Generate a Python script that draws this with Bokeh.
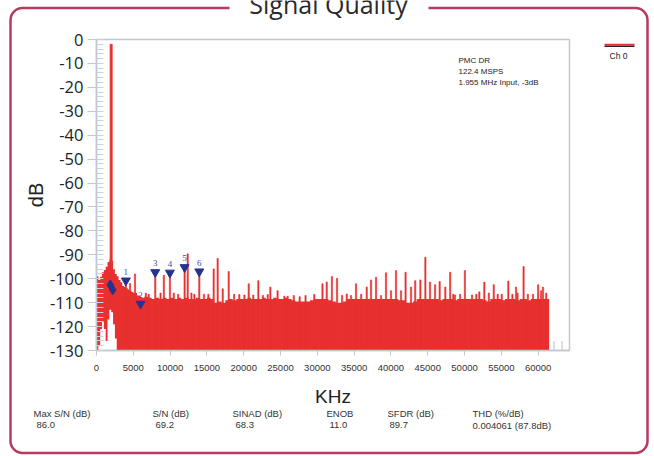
from bokeh.plotting import figure
from bokeh.models import Label, BoxAnnotation, Range1d, FixedTicker, ColumnDataSource
from bokeh.embed import file_html
from bokeh.resources import INLINE

# ---------------- data ----------------
# near-carrier region, 250 kHz bins
near_khz = [125, 375, 625, 875, 1125, 1375, 1625, 1875, 2125, 2375, 2625, 2875,
            3125, 3375, 3625, 3875, 4125, 4375, 4625, 4875]
near_top = [-99.0, -100.5, -99.2, -97.3, -96.3, -95.0, -93.0, -92.0, -92.5, -96.0, -98.0, -99.0,
            -100.5, -101.5, -103.0, -103.5, -104.0, -104.5, -105.0, -105.5]
near_bottom = [-130, -128, -121, -118, -121, -126, -117, -113, -114, -119, -125, -130,
               -130, -130, -130, -130, -130, -130, -130, -130]

# noise floor, 500 kHz bins from 5000 kHz to Nyquist
floor_start_khz = 5000
floor_bin_khz = 500
floor_db = [-106.0, -107.0,
            -108.0, -107.5, -108.0, -108.5, -108.0, -108.5, -108.0, -108.5,
            -108.0, -108.5, -108.0, -108.5, -108.0, -108.5, -108.5, -108.0,
            -108.5, -108.5, -108.0, -108.5,
            -110.0, -109.5, -110.0, -109.0, -108.5, -109.0, -108.5, -108.5,
            -108.5, -108.0, -108.5, -108.5, -108.5, -108.0, -108.5, -108.5,
            -108.0, -108.5, -108.5, -108.0, -108.5, -109.0, -109.5, -109.5,
            -109.5, -109.5, -109.0, -108.5, -108.5, -108.5, -108.5, -109.0,
            -109.5, -110.0, -110.0, -109.5, -108.5, -108.5, -108.5, -108.5,
            -108.5, -108.5, -108.5, -108.5, -108.5, -108.5, -108.5, -108.5,
            -108.5, -108.5, -109.0, -109.0, -110.0, -110.0, -109.5, -108.5,
            -108.5, -108.5, -108.5, -108.5, -108.5, -109.0, -108.5, -108.5,
            -108.5, -109.0, -108.5, -108.5, -108.5, -108.5, -108.5, -108.5,
            -108.5, -109.0, -109.5, -108.5, -108.5, -108.5, -109.0, -108.5,
            -108.5, -108.5, -109.0, -108.5, -108.5, -109.0, -108.5, -108.5,
            -108.5, -108.5, -108.5]

fund_khz = [1990]
fund_db = [-2.0]

spur_khz = [4550, 5230, 6700, 7100, 8700, 9150, 10500, 11100, 12390, 12900, 13300, 14600,
            15200, 15920, 16460, 17150, 17960, 18700, 19400, 20100, 20680, 21300, 21990,
            22600, 23260, 23620, 24600, 25520, 25970, 26800, 27600, 28400, 29590,
            30700, 31280, 31980, 32680, 33360, 34000, 34580, 35260, 35960, 36710,
            37300, 37980, 38650, 39330, 40010, 40690, 41370, 41990, 42730, 43300,
            44000, 44680, 45310, 46000, 46620, 47390, 48050, 48480, 48700, 49400,
            50050, 51020, 51600, 52010, 52690, 53300, 53970, 54500, 55060, 55950,
            56500, 57000, 57200, 58020, 58600, 59300, 60000, 60400, 60660, 61100]
spur_db = [-102.0, -98.0, -106.0, -106.5, -106.0, -98.5, -106.0, -106.5, -89.6, -106.0, -106.5, -106.5,
           -106.5, -95.9, -91.5, -104.2, -97.0, -106.5, -106.6, -106.8, -102.1, -106.8, -100.8,
           -107.0, -106.6, -103.5, -105.0, -107.3, -107.3, -107.0, -107.5, -107.0, -106.6,
           -102.1, -101.4, -99.1, -99.8, -107.0, -106.4, -107.0, -102.1, -106.5, -103.5,
           -100.5, -99.4, -107.0, -97.5, -105.0, -96.6, -105.0, -97.3, -103.5, -100.8,
           -100.5, -91.0, -101.4, -102.5, -101.2, -103.5, -97.3, -106.5, -106.8, -106.5,
           -96.6, -106.8, -106.5, -105.5, -101.4, -106.0, -102.5, -106.5, -106.5, -101.0,
           -106.5, -103.5, -106.0, -94.9, -106.5, -106.5, -102.5, -105.0, -103.5, -106.0]

marker_khz = [3990, 5985, 7980, 9975, 11970, 13965]
marker_db = [-100.8, -110.5, -97.3, -97.5, -95.2, -97.0]
marker_text = ["1", "2", "3", "4", "5", "6"]

dia_khz = [1880, 2200]
dia_db = [-102.6, -104.6]

end_khz = [62160, 63250]
end_top_db = [-126.0, -126.0]

x_max_khz = 64260
x_ticks = [0, 5000, 10000, 15000, 20000, 25000, 30000, 35000, 40000, 45000, 50000, 55000, 60000]
y_ticks = [0, -10, -20, -30, -40, -50, -60, -70, -80, -90, -100, -110, -120, -130]
y_tick_labels = ["0", "-10", "-20", "-30", "-40", "-50", "-60", "-70", "-80", "-90",
                 "-100", "-110", "-120", "-130"]

info_lines = ["PMC DR", "122.4 MSPS", "1.955 MHz Input, -3dB"]
stat_names = ["Max S/N (dB)", "S/N (dB)", "SINAD (dB)", "ENOB", "SFDR (dB)", "THD (%/dB)"]
stat_values = ["86.0", "69.2", "68.3", "11.0", "89.7", "0.004061 (87.8dB)"]

# ---------------- layout: plot box in page pixels ----------------
W, H = 654, 456
BOX_L, BOX_R, BOX_T, BOX_B = 96, 569, 39, 350
kx = x_max_khz / (BOX_R - BOX_L)
ky = 130.0 / (BOX_B - BOX_T)

RED = "#e8302f"
GRID = "#c3c7cf"
FONT = "Liberation Sans"

p = figure(width=W, height=H, output_backend="svg", toolbar_location=None,
           x_range=Range1d(-BOX_L * kx, x_max_khz + (W - BOX_R) * kx),
           y_range=Range1d(-130 - (H - BOX_B) * ky, BOX_T * ky),
           min_border_left=0, min_border_right=0, min_border_top=0, min_border_bottom=0)
p.background_fill_color = "white"
p.border_fill_color = "white"
p.outline_line_color = None
p.xgrid.visible = False
p.ygrid.visible = False

# plot box (top and right edges)
p.add_layout(BoxAnnotation(left=0, right=x_max_khz, top=0, bottom=-130, fill_alpha=0,
                           line_color=GRID, line_alpha=1, line_width=1.5, level="underlay"))

# spectrum floor as one stepped area
sx, slo, shi = [], [], []
for c, t, b in zip(near_khz, near_top, near_bottom):
    sx += [c - 125, c + 125]
    slo += [b, b]
    shi += [t, t]
for i, t in enumerate(floor_db):
    x0 = floor_start_khz + floor_bin_khz * i
    sx += [x0, x0 + floor_bin_khz]
    slo += [-130, -130]
    shi += [t, t]
p.varea(x=sx, y1=slo, y2=shi, fill_color=RED)

spur_src = ColumnDataSource(dict(x=spur_khz, top=spur_db, bottom=[-130] * len(spur_db)))
p.vbar(x="x", top="top", bottom="bottom", width=170, source=spur_src,
       fill_color=RED, line_color=RED, line_width=0.6)

harm_src = ColumnDataSource(dict(x=marker_khz, top=marker_db, bottom=[-130] * len(marker_db)))
p.vbar(x="x", top="top", bottom="bottom", width=170, source=harm_src,
       fill_color=RED, line_color=RED, line_width=0.6)

fund_src = ColumnDataSource(dict(x=fund_khz, top=fund_db, bottom=[-112] * len(fund_db)))
p.vbar(x="x", top="top", bottom="bottom", width=280, source=fund_src,
       fill_color=RED, line_color=RED, line_width=0.8)

p.segment(x0=end_khz, x1=end_khz, y0=[-130] * len(end_khz), y1=end_top_db,
          line_color="#c8ccd6", line_width=1.2)

mk_src = ColumnDataSource(dict(x=marker_khz, y=marker_db, t=marker_text))
p.scatter(x="x", y="y", source=mk_src, marker="inverted_triangle", size=9,
          fill_color="#24348c", line_color="#24348c")
p.text(x="x", y="y", text="t", source=mk_src, text_align="center", text_baseline="middle",
       y_offset=-9, text_font_size="9px", text_color="#3b4ea3", text_font=FONT)

p.scatter(x=dia_khz, y=dia_db, marker="diamond", size=10,
          fill_color="#24348c", line_color="#24348c")

# axes, pinned to the plot box
xa = p.xaxis[0]
xa.fixed_location = -130
xa.bounds = (0, x_max_khz)
xa.ticker = FixedTicker(ticks=x_ticks)
xa.axis_line_color = GRID
xa.axis_line_width = 1.5
xa.major_tick_line_color = GRID
xa.major_tick_out = 5
xa.major_tick_in = 0
xa.minor_tick_out = 0
xa.minor_tick_in = 0
xa.major_label_text_font = FONT
xa.major_label_text_font_size = "9.5px"
xa.major_label_text_color = "#333333"
xa.major_label_standoff = 9
xa.axis_label = "KHz"
xa.axis_label_text_font = FONT
xa.axis_label_text_font_size = "19px"
xa.axis_label_text_font_style = "normal"
xa.axis_label_text_color = "#222222"
xa.axis_label_standoff = 12

ya = p.yaxis[0]
ya.fixed_location = 0
ya.bounds = (-130, 0)
ya.ticker = FixedTicker(ticks=y_ticks, minor_ticks=[v for v in range(-130, 1, 2)])
ya.major_label_overrides = {t: s for t, s in zip(y_ticks, y_tick_labels)}
ya.axis_line_color = GRID
ya.axis_line_width = 1.5
ya.major_tick_line_color = GRID
ya.major_tick_out = 9
ya.major_tick_in = 0
ya.minor_tick_in = 7
ya.minor_tick_out = 0
ya.minor_tick_line_color = "#cdd0d6"
ya.major_label_text_font = "Open Sans"
ya.major_label_text_font_size = "16.5px"
ya.major_label_text_color = "#222222"
ya.major_label_standoff = 4
ya.axis_label = "dB"
ya.axis_label_text_font = FONT
ya.axis_label_text_font_size = "20px"
ya.axis_label_text_font_style = "normal"
ya.axis_label_text_color = "#222222"
ya.axis_label_standoff = 0


# page-pixel helpers (frame == whole canvas)
def fy(py):
    return H - py


def sbox(l, r, t, b, **kw):
    return BoxAnnotation(left=l, right=r, top=fy(t), bottom=fy(b),
                         left_units="screen", right_units="screen",
                         top_units="screen", bottom_units="screen", **kw)


def slabel(x, y, text, **kw):
    return Label(x=x, y=fy(y), x_units="screen", y_units="screen", text=text, **kw)


# group box border and title
p.add_layout(sbox(10, 647, 7.5, 452.5, fill_alpha=0, line_color="#b73b5f", line_alpha=1,
                  line_width=2.5, border_radius=12))
p.add_layout(sbox(229, 428, -2, 16, fill_color="white", fill_alpha=1, line_color=None))
p.add_layout(slabel(328, 3, "Signal Quality", text_align="center", text_baseline="alphabetic",
                    text_font="Open Sans", text_font_size="25px", text_color="#2a2a2a"))

# legend swatch
p.add_layout(sbox(604, 634, 43.3, 45.3, fill_color=RED, fill_alpha=1, line_color=None))
p.add_layout(sbox(604, 634, 45.3, 46.6, fill_color="#222222", fill_alpha=1, line_color=None))
p.add_layout(slabel(618, 55, "Ch 0", text_align="center", text_baseline="middle",
                    text_font=FONT, text_font_size="8.5px", text_color="#222222"))

for i, line in enumerate(info_lines):
    p.add_layout(slabel(458, 60 + 11 * i, line, text_align="left", text_baseline="middle",
                        text_font=FONT, text_font_size="8px", text_color="#222222"))

name_x = [33, 152, 232, 326, 387, 472]
val_x = [36, 155, 235, 329, 389, 472]
for i in range(len(stat_names)):
    p.add_layout(slabel(name_x[i], 412.5, stat_names[i], text_align="left", text_baseline="middle",
                        text_font=FONT, text_font_size="9.5px", text_color="#333333"))
    p.add_layout(slabel(val_x[i], 424.5, stat_values[i], text_align="left", text_baseline="middle",
                        text_font=FONT, text_font_size="9.5px", text_color="#333333"))

open("out.html", "w").write(file_html(p, INLINE))
